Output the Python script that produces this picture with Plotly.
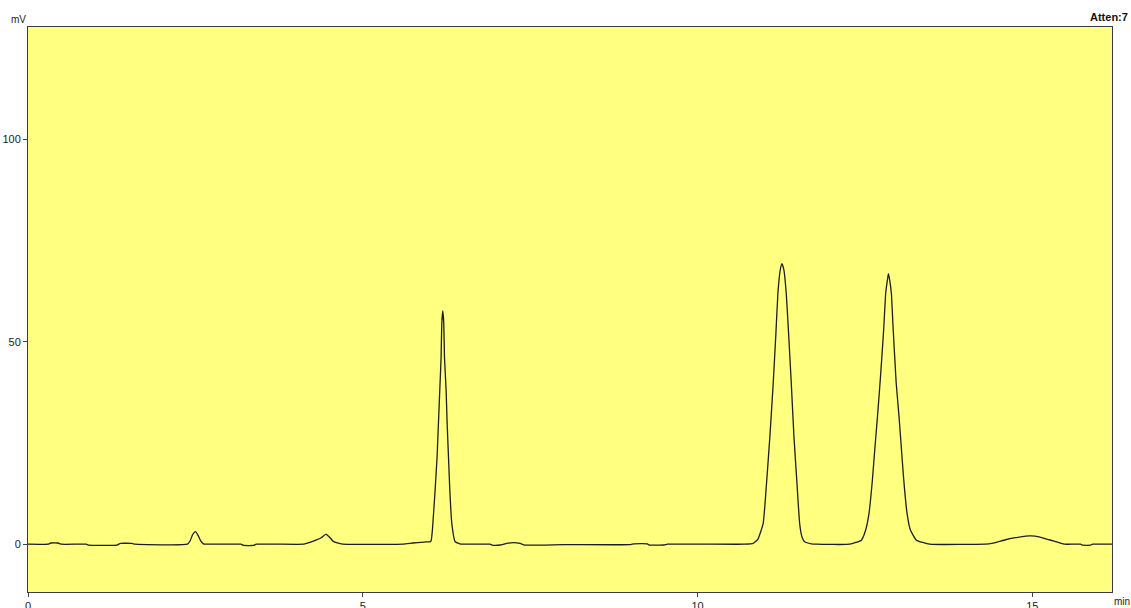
import plotly.graph_objects as go

# retention time (min) and detector signal (mV)
time_min = [
    0.00, 0.30, 0.34, 0.45, 0.50, 0.87, 0.90, 1.33, 1.38, 1.55, 1.60,
    2.38, 2.42, 2.46, 2.50, 2.54, 2.58, 2.62, 2.70,
    3.18, 3.22, 3.37, 3.41,
    4.12, 4.20, 4.30, 4.38, 4.45, 4.50, 4.56, 4.62, 4.70,
    5.60, 5.75, 5.95, 6.00,
    6.02, 6.04, 6.08, 6.11, 6.13, 6.15, 6.17, 6.18, 6.195,
    6.21, 6.22, 6.245, 6.26, 6.28, 6.30, 6.33, 6.38, 6.45, 6.50,
    6.90, 6.93, 7.05, 7.15, 7.25, 7.35, 7.42, 8.00,
    9.00, 9.05, 9.25, 9.28, 9.50, 9.55,
    10.70, 10.83, 10.90, 10.98, 11.03, 11.08, 11.13, 11.17, 11.20, 11.235, 11.26,
    11.29, 11.325, 11.36, 11.40, 11.44, 11.485, 11.525, 11.56, 11.60, 11.70, 11.78,
    12.272, 12.447, 12.511, 12.561, 12.611, 12.650, 12.691, 12.731, 12.780,
    12.810, 12.835, 12.851, 12.870, 12.895,
    12.919, 12.966, 13.009, 13.045, 13.079, 13.129, 13.179, 13.269, 13.468,
    14.35, 14.45, 14.60, 14.75, 14.90, 14.98, 15.10, 15.25, 15.40, 15.48,
    15.72, 15.75, 15.87, 15.90, 16.19,
]
signal_mv = [
    0.0, 0.0, 0.3, 0.3, 0.0, 0.0, -0.2, -0.2, 0.2, 0.2, 0.0,
    0.0, 0.8, 2.4, 3.1, 2.2, 0.8, 0.1, 0.0,
    0.0, -0.3, -0.3, 0.0,
    0.0, 0.4, 1.0, 1.6, 2.5, 1.8, 0.7, 0.3, 0.0,
    0.0, 0.3, 0.6, 0.6,
    0.8, 3.5, 13.3, 21.6, 29.8, 38.0, 46.2, 54.5, 57.6,
    54.5, 46.2, 38.0, 29.8, 21.6, 13.3, 5.1, 0.6, 0.1, 0.0,
    0.0, -0.2, -0.2, 0.2, 0.4, 0.2, -0.2, -0.1,
    -0.1, 0.1, 0.1, -0.2, -0.2, 0.0,
    0.0, 0.2, 1.2, 5.1, 15.0, 26.5, 39.7, 52.0, 61.9, 67.7, 69.3,
    67.7, 61.9, 52.0, 39.7, 26.5, 15.0, 5.1, 1.8, 0.6, 0.1, 0.0,
    0.0, 1.0, 3.5, 7.6, 15.8, 24.0, 32.3, 41.0, 53.0,
    61.9, 65.2, 66.8, 65.2, 61.9,
    54.0, 40.0, 31.5, 23.5, 16.0, 7.6, 3.5, 1.0, 0.0,
    0.1, 0.4, 1.1, 1.6, 2.0, 2.05, 1.8, 1.1, 0.4, 0.0,
    0.0, -0.25, -0.25, 0.0, 0.0,
]

x_ticks = [0, 5, 10, 15]
y_ticks = [0, 50, 100]

font = 'Arial, Liberation Sans, sans-serif'
fig = go.Figure()
fig.add_trace(go.Scatter(x=time_min, y=signal_mv, mode='lines',
                         line=dict(color='#1e1e1e', width=1.3, shape='spline', smoothing=0.4),
                         hoverinfo='x+y'))

axis_common = dict(showgrid=False, zeroline=False, showline=True, linecolor='#3a3a4a',
                   linewidth=1, mirror=True, ticks='outside', ticklen=4, tickcolor='#444',
                   automargin=False, tickfont=dict(family=font, size=11, color='#222'))
fig.update_xaxes(range=[0, 16.19], tickvals=x_ticks, **axis_common)
fig.update_yaxes(range=[-11.8, 127.7], tickvals=y_ticks, **axis_common)

fig.add_annotation(text='mV', xref='paper', yref='paper', x=0, y=1, xanchor='right',
                   yanchor='bottom', showarrow=False, font=dict(family=font, size=10, color='#222'))
fig.add_annotation(text='<b>Atten:7</b>', xref='paper', yref='paper', x=1, y=1, xanchor='right',
                   yanchor='bottom', xshift=18, yshift=2, showarrow=False,
                   font=dict(family=font, size=11, color='#111'))
fig.add_annotation(text='min', xref='paper', yref='paper', x=1, y=0, xanchor='left',
                   yanchor='top', xshift=0, yshift=-2, showarrow=False,
                   font=dict(family=font, size=10, color='#222'))

fig.update_layout(width=1131, height=608, margin=dict(l=28, r=19, t=27, b=16, autoexpand=False),
                  plot_bgcolor='#FFFF80', paper_bgcolor='white', showlegend=False)
# page body has a default 8px margin; drop it so the figure fills the window exactly
fig.write_html('out.html', config={'displayModeBar': False},
               post_script="document.body.style.margin='0';")
